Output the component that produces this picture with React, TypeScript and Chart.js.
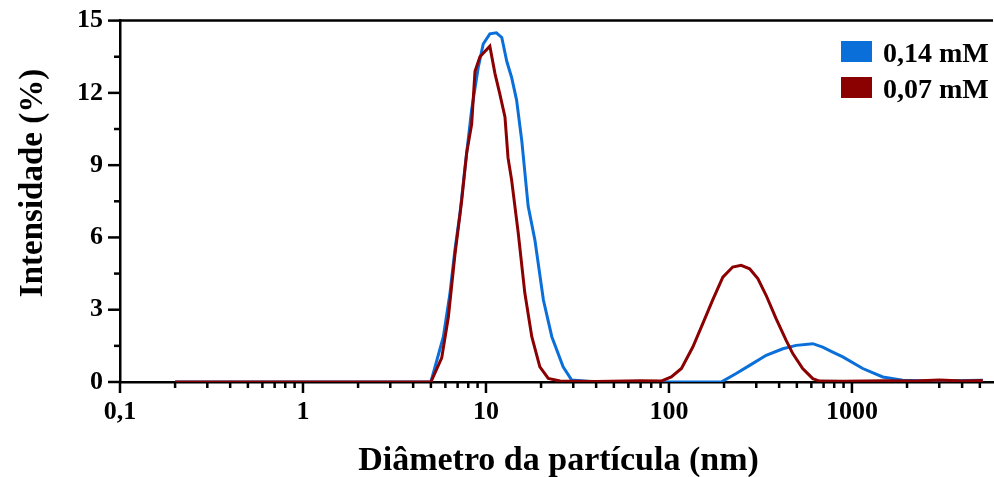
import { useEffect, useRef } from 'react';
import { Chart, registerables } from 'chart.js';

Chart.register(...registerables);

const seriesLabels = ['0,14 mM', '0,07 mM'];
const seriesColors = ['#0a6fd9', '#8b0000'];

const blueX = [0.2, 5.0, 5.85, 6.36, 6.77, 7.21, 7.68, 8.35, 9.08, 9.66, 10.5, 11.4, 12.2, 13.0, 13.8, 14.7, 15.7, 17.0, 18.5, 20.6, 22.9, 26.4, 29.4, 40, 60, 100, 150, 193, 233, 276, 340, 419, 496, 611, 692, 785, 891, 1146, 1473, 1895, 2543, 3500, 5190];
const blueY = [0, 0, 1.88, 3.7, 5.5, 7.0, 8.9, 11.3, 13.07, 14.03, 14.45, 14.49, 14.3, 13.3, 12.65, 11.7, 10.0, 7.3, 5.9, 3.4, 1.88, 0.63, 0.08, 0, 0, 0, 0, 0, 0.35, 0.69, 1.11, 1.38, 1.52, 1.59, 1.45, 1.24, 1.04, 0.56, 0.21, 0.07, 0.04, 0.05, 0.07];

const redX = [0.2, 5.0, 5.73, 6.23, 6.77, 7.36, 7.84, 8.35, 8.71, 9.27, 10.5, 11.2, 11.9, 12.7, 13.2, 13.8, 15.0, 16.3, 17.8, 19.7, 21.9, 25.4, 40, 70, 90.6, 103, 117, 135, 153, 173, 197, 223, 248, 276, 306, 340, 385, 437, 475, 538, 611, 664, 900, 1500, 2200, 3000, 4000, 5190];
const redY = [0, 0, 1.0, 2.7, 5.3, 7.5, 9.5, 10.7, 12.9, 13.5, 13.94, 12.8, 11.96, 11.0, 9.3, 8.4, 6.2, 3.7, 1.88, 0.63, 0.15, 0.04, 0.02, 0.05, 0.04, 0.21, 0.56, 1.45, 2.42, 3.39, 4.35, 4.77, 4.84, 4.70, 4.29, 3.59, 2.63, 1.73, 1.18, 0.56, 0.14, 0.04, 0.03, 0.05, 0.04, 0.08, 0.04, 0.06];

const xMin = 0.1;
const xMax = 5900;
const xMajorTicks = [0.1, 1, 10, 100, 1000];
const xMajorLabels = ['0,1', '1', '10', '100', '1000'];
const xMinorMultipliers = [2, 3, 4, 5, 6, 7, 8, 9];

const yMin = 0;
const yMax = 15;
const yMajorTicks = [0, 3, 6, 9, 12, 15];
const yMajorLabels = ['0', '3', '6', '9', '12', '15'];
const yMinorTicks = [1.5, 4.5, 7.5, 10.5, 13.5];

const xTitle = 'Diâmetro da partícula (nm)';
const yTitle = 'Intensidade (%)';

const FONT = "'Liberation Serif', 'Times New Roman', serif";

const decoPlugin = {
  id: 'deco',
  afterDraw(chart: any) {
    const { ctx, chartArea: a, scales } = chart;
    ctx.save();
    ctx.strokeStyle = '#000';
    ctx.lineWidth = 2.5;
    ctx.lineCap = 'butt';
    // top frame line
    ctx.beginPath();
    ctx.moveTo(a.left - 1.25, a.top);
    ctx.lineTo(a.right, a.top);
    ctx.stroke();
    // x ticks
    for (const t of scales.x.ticks) {
      const p = scales.x.getPixelForValue(t.value);
      const len = t.major ? 11 : 6;
      ctx.beginPath();
      ctx.moveTo(p, a.bottom);
      ctx.lineTo(p, a.bottom + len);
      ctx.stroke();
    }
    // y ticks
    for (const t of scales.y.ticks) {
      const p = scales.y.getPixelForValue(t.value);
      const len = t.major ? 12 : 6;
      ctx.beginPath();
      ctx.moveTo(a.left, p);
      ctx.lineTo(a.left - len, p);
      ctx.stroke();
    }
    // axis titles
    ctx.fillStyle = '#000';
    ctx.font = `bold 34px ${FONT}`;
    ctx.textAlign = 'center';
    ctx.textBaseline = 'alphabetic';
    ctx.fillText(xTitle, (a.left + a.right) / 2 + 2, 470);
    ctx.font = `bold 33px ${FONT}`;
    ctx.save();
    ctx.translate(42, 183);
    ctx.rotate(-Math.PI / 2);
    ctx.fillText(yTitle, 0, 0);
    ctx.restore();
    // legend
    ctx.font = `bold 28px ${FONT}`;
    ctx.textAlign = 'left';
    chart.data.datasets.forEach((ds: any, i: number) => {
      const top = 41 + i * 36;
      ctx.fillStyle = ds.borderColor;
      ctx.fillRect(841, top, 31, 21);
      ctx.fillStyle = '#000';
      ctx.fillText(ds.label, 883, top + 21);
    });
    ctx.restore();
  },
};

export default function App() {
  const ref = useRef<HTMLCanvasElement | null>(null);

  useEffect(() => {
    if (!ref.current) return;
    const minorX: number[] = [];
    xMajorTicks.forEach((d) => {
      xMinorMultipliers.forEach((m) => {
        const v = d * m;
        if (v <= xMax) minorX.push(v);
      });
    });
    const chart = new Chart(ref.current, {
      type: 'line',
      data: {
        datasets: [
          {
            label: seriesLabels[0],
            data: blueX.map((x, i) => ({ x, y: blueY[i] })),
            borderColor: seriesColors[0],
            backgroundColor: seriesColors[0],
            borderWidth: 3,
            pointRadius: 0,
            tension: 0,
            fill: false,
            order: 1,
          },
          {
            label: seriesLabels[1],
            data: redX.map((x, i) => ({ x, y: redY[i] })),
            borderColor: seriesColors[1],
            backgroundColor: seriesColors[1],
            borderWidth: 3,
            pointRadius: 0,
            tension: 0,
            fill: false,
            order: 0,
          },
        ],
      },
      options: {
        responsive: false,
        animation: false,
        layout: { padding: { top: 20, right: 1, left: 0, bottom: 0 } },
        plugins: {
          legend: { display: false },
          tooltip: { enabled: false },
          title: { display: false },
        },
        scales: {
          x: {
            type: 'logarithmic',
            min: xMin,
            max: xMax,
            afterFit: (s: any) => {
              s.height = 95;
            },
            afterBuildTicks: (s: any) => {
              const all = [
                ...xMajorTicks.map((v) => ({ value: v, major: true })),
                ...minorX.map((v) => ({ value: v, major: false })),
              ].sort((p, q) => p.value - q.value);
              s.ticks = all;
            },
            grid: {
              display: true,
              drawOnChartArea: false,
              drawTicks: true,
              tickLength: 11,
              tickColor: 'rgba(0,0,0,0)',
            },
            border: { display: true, color: '#000', width: 2.5 },
            ticks: {
              autoSkip: false,
              maxRotation: 0,
              minRotation: 0,
              padding: 4,
              color: '#000',
              font: { family: FONT, size: 26, weight: 'bold' },
              callback: (value: any) => {
                const idx = xMajorTicks.findIndex((m) => Math.abs(m - Number(value)) < 1e-9 * Math.max(1, m));
                return idx >= 0 ? xMajorLabels[idx] : '';
              },
            },
          },
          y: {
            type: 'linear',
            min: yMin,
            max: yMax,
            afterFit: (s: any) => {
              s.width = 120;
            },
            afterBuildTicks: (s: any) => {
              s.ticks = [
                ...yMajorTicks.map((v) => ({ value: v, major: true })),
                ...yMinorTicks.map((v) => ({ value: v, major: false })),
              ].sort((p, q) => p.value - q.value);
            },
            grid: {
              display: true,
              drawOnChartArea: false,
              drawTicks: true,
              tickLength: 12,
              tickColor: 'rgba(0,0,0,0)',
            },
            border: { display: true, color: '#000', width: 2.5 },
            ticks: {
              autoSkip: false,
              padding: 5,
              color: '#000',
              font: { family: FONT, size: 26, weight: 'bold' },
              callback: (value: any) => {
                const idx = yMajorTicks.indexOf(Number(value));
                return idx >= 0 ? yMajorLabels[idx] : '';
              },
            },
          },
        },
      },
      plugins: [decoPlugin],
    } as any);
    return () => chart.destroy();
  }, []);

  return (
    <div style={{ position: 'absolute', left: 0, top: 0, width: 994, height: 477, background: '#fff' }}>
      <canvas ref={ref} width={994} height={477} style={{ display: 'block' }} />
    </div>
  );
}
